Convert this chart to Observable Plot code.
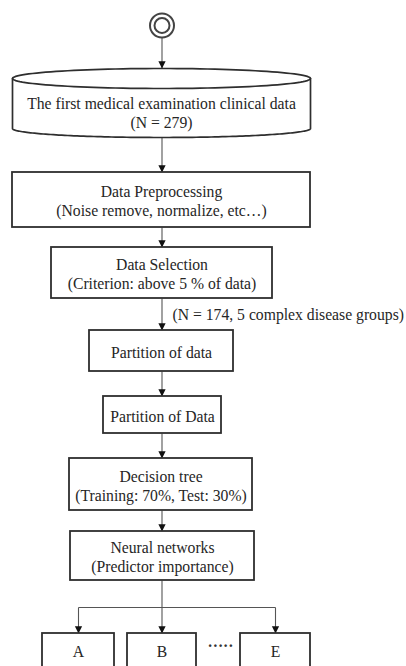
<!DOCTYPE html>
<html>
<head>
<meta charset="utf-8">
<script src="https://cdn.jsdelivr.net/npm/d3@7"></script>
<script src="https://cdn.jsdelivr.net/npm/@observablehq/plot@0.6"></script>
<style>
  html, body { margin: 0; padding: 0; background: #fff; }
</style>
</head>
<body>
<div id="chart"></div>
<script>
// ---------- DATA (texts of the flowchart) ----------
const stepLabels = [
  "The first medical examination clinical data\n(N = 279)",
  "Data Preprocessing\n(Noise remove, normalize, etc…)",
  "Data Selection\n(Criterion: above 5 % of data)",
  "Partition of data",
  "Partition of Data",
  "Decision tree\n(Training: 70%, Test: 30%)",
  "Neural networks\n(Predictor importance)"
];
const branchNote = ["(N = 174, 5 complex disease groups)"];
const leafLabels = ["A", "B", "E"];
const gapLabel = ["·····"];

// ---------- LAYOUT (diagram geometry, separate from the data) ----------
const W = 406, H = 666;
const cx = 161.5;
const stepLayout = [
  {x1: 12,  x2: 310, y1: 68,  y2: 137, ty: 112},   // cylinder
  {x1: 12,  x2: 310, y1: 172, y2: 227, ty: 200},
  {x1: 51,  x2: 272, y1: 247, y2: 298, ty: 272.5},
  {x1: 89,  x2: 233, y1: 330, y2: 371, ty: 351},
  {x1: 103, x2: 221, y1: 396, y2: 433, ty: 415},
  {x1: 69,  x2: 252, y1: 458, y2: 510, ty: 484.5},
  {x1: 70,  x2: 254, y1: 531, y2: 580, ty: 556}
];
const leafLayout = [
  {x1: 42,  x2: 114},
  {x1: 127, x2: 196},
  {x1: 240, x2: 310}
];
const leafTop = 633, leafBottom = 668, leafTextY = 651, busY = 607;
const startY = 25;

// cylinder geometry
const cyl = stepLayout[0];
const crx = (cyl.x2 - cyl.x1) / 2, ccx = (cyl.x1 + cyl.x2) / 2;
const topCy = 78, topRy = 10, botCy = 128, botRy = 9;
const N = 120;
const topEllipse = d3.range(N + 1).map(k => {
  const t = (k / N) * 2 * Math.PI;
  return {x: ccx + crx * Math.cos(t), y: topCy + topRy * Math.sin(t)};
});
const body = [{x: cyl.x1, y: topCy}].concat(
  d3.range(N + 1).map(k => {
    const t = Math.PI - (k / N) * Math.PI;
    return {x: ccx + crx * Math.cos(t), y: botCy + botRy * Math.sin(t)};
  }),
  [{x: cyl.x2, y: topCy}]
);

// connectors
const segs = [];
const tips = [];
function arrow(x, ya, yb) { segs.push({x1: x, y1: ya, x2: x, y2: yb}); tips.push({x, y: yb}); }
arrow(cx, startY + 12, cyl.y1);
arrow(cx, cyl.y2, stepLayout[1].y1);
for (let i = 1; i < stepLayout.length - 1; i++) arrow(cx, stepLayout[i].y2, stepLayout[i + 1].y1);
const leafCx = leafLayout.map(d => (d.x1 + d.x2) / 2);
segs.push({x1: cx, y1: stepLayout[6].y2, x2: cx, y2: busY});
segs.push({x1: leafCx[0], y1: busY, x2: leafCx[2], y2: busY});
leafCx.forEach(x => arrow(x, busY, leafTop));

const arrowHead = {
  draw(context, size) {
    const r = Math.sqrt(size / Math.PI);
    const h = r * 1.8, w = r * 0.9;
    context.moveTo(0, 0);
    context.lineTo(-w, -h);
    context.lineTo(w, -h);
    context.closePath();
  }
};

const font = "'Liberation Serif', 'Times New Roman', serif";
const textFill = "#262626";
const boxStroke = "#2e2e2e";
const fs = 15.7;

const chart = Plot.plot({
  width: W,
  height: H,
  margin: 0,
  x: {domain: [0, W], axis: null},
  y: {domain: [0, H], reverse: true, axis: null},
  style: {background: "#fff", fontFamily: font},
  marks: [
    // connectors
    Plot.link(segs, {x1: "x1", y1: "y1", x2: "x2", y2: "y2", stroke: "#555", strokeWidth: 1.1}),
    Plot.dot(tips, {x: "x", y: "y", r: 4, symbol: arrowHead, fill: "#111", stroke: null}),
    // start symbol
    Plot.dot([{x: cx, y: startY}], {x: "x", y: "y", r: 12, stroke: "#444", strokeWidth: 2, fill: "#fff"}),
    Plot.dot([{x: cx, y: startY}], {x: "x", y: "y", r: 7.5, stroke: "#444", strokeWidth: 2, fill: "#fff"}),
    // cylinder
    Plot.line(body, {x: "x", y: "y", stroke: boxStroke, strokeWidth: 1.7, curve: "linear"}),
    Plot.line(topEllipse, {x: "x", y: "y", stroke: boxStroke, strokeWidth: 1.7, curve: "linear"}),
    // boxes
    Plot.rect(stepLayout.slice(1), {x1: "x1", x2: "x2", y1: "y1", y2: "y2", fill: "#fff", stroke: boxStroke, strokeWidth: 1.8}),
    Plot.rect(leafLayout, {x1: "x1", x2: "x2", y1: () => leafTop, y2: () => leafBottom, fill: "#fff", stroke: boxStroke, strokeWidth: 1.8}),
    // texts
    Plot.text(stepLabels, {
      x: (d, i) => (stepLayout[i].x1 + stepLayout[i].x2) / 2,
      y: (d, i) => stepLayout[i].ty,
      text: d => d,
      fontSize: fs, lineHeight: 1.24, fill: textFill, fontFamily: font
    }),
    Plot.text(leafLabels, {
      x: (d, i) => leafCx[i],
      y: () => leafTextY,
      text: d => d,
      fontSize: fs, fill: textFill, fontFamily: font
    }),
    Plot.text(branchNote, {
      x: () => 172, y: () => 314, text: d => d,
      textAnchor: "start", fontSize: fs, fill: textFill, fontFamily: font
    }),
    Plot.text(gapLabel, {
      x: () => 220, y: () => 645, text: d => d,
      fontSize: fs, fontWeight: "bold", fill: "#333", fontFamily: font
    })
  ]
});
document.getElementById("chart").appendChild(chart);
</script>
</body>
</html>
